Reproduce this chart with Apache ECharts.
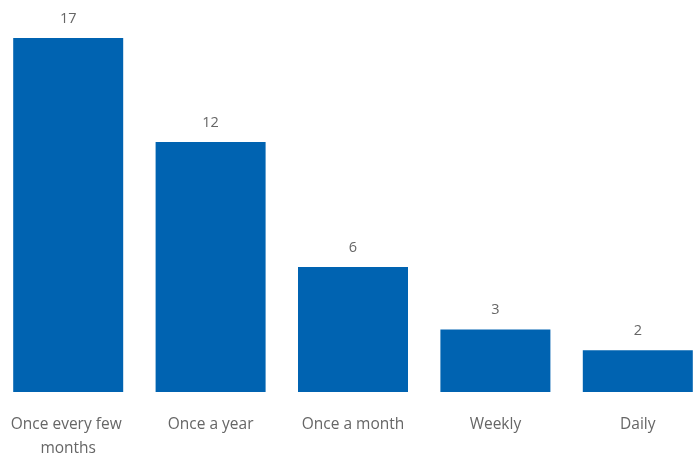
<!DOCTYPE html>
<html><head><meta charset="utf-8">
<script src="https://cdn.jsdelivr.net/npm/echarts@6/dist/echarts.min.js"></script>
<style>html,body{margin:0;padding:0;background:#fff}#c{width:694px;height:456px}</style>
</head><body><div id="c"></div>
<script>
const categories = ["Once every few months", "Once a year", "Once a month", "Weekly", "Daily"];
const values = [17, 12, 6, 3, 2];

const chart = echarts.init(document.getElementById('c'), null, {renderer: 'canvas'});
chart.setOption({
  animation: false,
  grid: {left: -3, width: 712, top: 38, bottom: 64, containLabel: false, outerBoundsMode: 'none'},
  xAxis: {
    type: 'category', data: categories,
    axisLine: {show: false}, axisTick: {show: false},
    axisLabel: {
      interval: 0, color: '#666', fontFamily: 'Open Sans', fontSize: 15.5,
      lineHeight: 24, margin: 21, width: 128, overflow: 'break'
    }
  },
  yAxis: {type: 'value', min: 0, max: 17, show: false, splitLine: {show: false}},
  series: [{
    type: 'bar', data: values, barWidth: 110,
    itemStyle: {color: '#0063B1'},
    label: {show: true, position: 'top', distance: 12, color: '#666', fontFamily: 'Open Sans', fontSize: 14.5}
  }]
});
</script></body></html>
